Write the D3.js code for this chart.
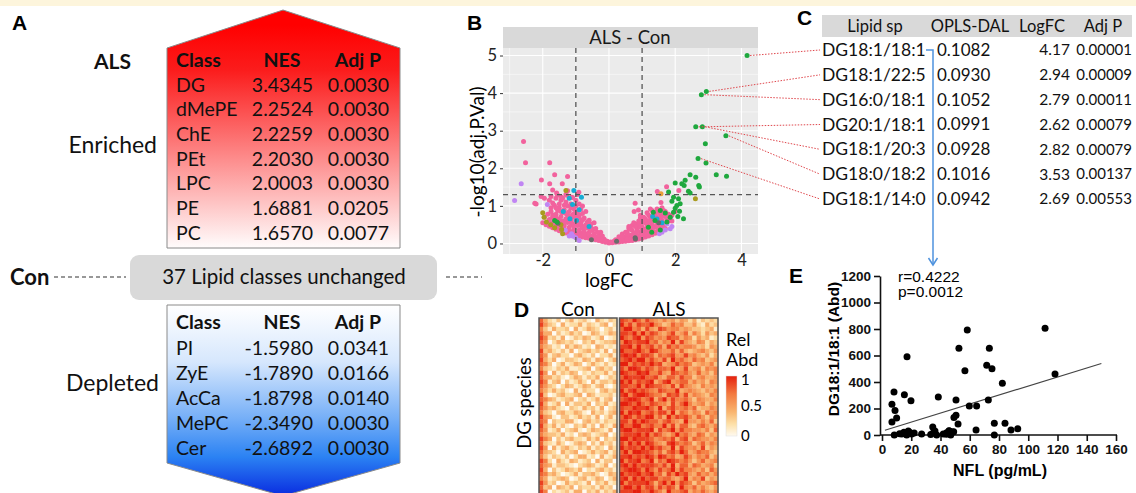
<!DOCTYPE html>
<html>
<head>
<meta charset="utf-8">
<script src="https://cdn.jsdelivr.net/npm/d3@7"></script>
<style>
  body { margin: 0; background: #fff; }
  svg { display: block; font-family: Lato, "Open Sans", sans-serif; }
</style>
</head>
<body>
<script>
// ---- Panel A: lipid class enrichment ----
var enrichedClass = ["DG", "dMePE", "ChE", "PEt", "LPC", "PE", "PC"];
var enrichedNES = ["3.4345", "2.2524", "2.2259", "2.2030", "2.0003", "1.6881", "1.6570"];
var enrichedP = ["0.0030", "0.0030", "0.0030", "0.0030", "0.0030", "0.0205", "0.0077"];
var depletedClass = ["PI", "ZyE", "AcCa", "MePC", "Cer"];
var depletedNES = ["-1.5980", "-1.7890", "-1.8798", "-2.3490", "-2.6892"];
var depletedP = ["0.0341", "0.0166", "0.0140", "0.0030", "0.0030"];
var unchangedCount = 37;

// ---- Panel C: top DG species ----
var lipidSp = ["DG18:1/18:1", "DG18:1/22:5", "DG16:0/18:1", "DG20:1/18:1", "DG18:1/20:3", "DG18:0/18:2", "DG18:1/14:0"];
var oplsDal = ["0.1082", "0.0930", "0.1052", "0.0991", "0.0928", "0.1016", "0.0942"];
var lipidLogFC = [4.17, 2.94, 2.79, 2.62, 2.82, 3.53, 2.69];
var lipidAdjP = [0.00001, 0.00009, 0.00011, 0.00079, 0.00079, 0.00137, 0.00553];
var lipidAdjPText = ["0.00001", "0.00009", "0.00011", "0.00079", "0.00079", "0.00137", "0.00553"];

// ---- Panel B: volcano points [logFC, -log10(adj.P)] per lipid group ----
var pinkPts = [
  [0,0.01],[-0.1,0.03],[-0.2,0.05],[-0.3,0.08],[-0.4,0.1],[-0.5,0.12],[-0.6,0.14],[-0.7,0.15],[-0.8,0.17],[-0.9,0.19],[-1.0,0.2],
  [-1.1,0.22],[-1.2,0.25],[-1.3,0.28],[-1.4,0.31],[-1.5,0.34],[-1.6,0.38],[-1.7,0.42],[-1.8,0.46],[-1.9,0.5],[-2.0,0.55],
  [-0.15,0.12],[-0.3,0.2],[-0.45,0.25],[-0.6,0.3],[-0.75,0.33],[-0.9,0.36],[-1.05,0.4],[-1.2,0.43],[-1.35,0.47],[-1.5,0.52],
  [-1.65,0.58],[-1.8,0.64],[-1.95,0.7],
  [-0.25,0.3],[-0.4,0.4],[-0.55,0.45],[-0.7,0.5],[-0.85,0.55],[-1.0,0.6],[-1.15,0.62],[-1.3,0.66],[-1.45,0.72],[-1.6,0.78],[-1.75,0.85],
  [-0.45,0.55],[-0.6,0.62],[-0.75,0.68],[-0.9,0.75],[-1.05,0.8],[-1.2,0.85],[-1.35,0.9],[-1.5,0.95],[-1.65,1.02],
  [-0.7,0.85],[-0.85,0.92],[-1.0,1.0],[-1.15,1.05],[-1.3,1.1],[-1.45,1.15],[-1.6,1.2],[-1.8,1.15],[-1.95,1.2],
  [-1.1,1.22],[-1.3,1.3],[-1.55,1.28],[-1.75,1.25],[-2.05,1.25],[-2.2,1.05],[-1.25,1.4],[-0.95,1.3],[-1.7,1.42],[-1.0,1.15],
  [-1.58,1.34],[-1.43,1.23],[-1.28,1.28],[-1.13,1.23],[-0.91,1.36],
  [-2.58,2.71],[-2.52,2.15],[-1.79,2.15],[-1.64,1.83],[-2.04,1.69],[-1.79,1.59],[-1.25,1.78],[-1.41,1.59],[-2.24,1.07],
  [-0.2,0.2],[-0.35,0.18],[-0.5,0.35],[-0.65,0.22],[-0.8,0.42],[-0.95,0.48],[-1.1,0.5],[-1.25,0.56],[-1.4,0.6],[-1.55,0.65],
  [-1.7,0.7],[-0.85,0.28],[-1.15,0.32],[-1.45,0.42],[-1.75,0.55],[-1.05,0.7],[-1.25,0.75],[-1.4,0.82],[-0.95,0.65],
  [-0.05,0.06],[-0.12,0.08],[-0.25,0.12],[-0.35,0.1],[-0.45,0.16],[-0.55,0.2],[-0.65,0.25],[-0.75,0.24],[-0.85,0.22],[-0.95,0.26],
  [-1.05,0.3],[-1.15,0.28],[-1.25,0.35],[-1.35,0.38],[-1.45,0.34],[-1.55,0.44],[-1.65,0.48],[-1.85,0.56],
  [-0.35,0.3],[-0.45,0.38],[-0.55,0.35],[-0.65,0.42],[-0.75,0.45],[-0.85,0.48],[-0.95,0.55],[-1.05,0.52],[-1.15,0.55],[-1.2,0.6],
  [-1.35,0.58],[-1.5,0.62],[-1.6,0.68],[-1.7,0.76],[-1.85,0.78],
  [-0.55,0.52],[-0.65,0.58],[-0.8,0.62],[-0.9,0.68],[-1.0,0.72],[-1.1,0.76],[-1.2,0.72],[-1.3,0.8],[-1.45,0.85],[-1.55,0.88],
  [-1.6,0.95],[-1.75,0.95],[-0.8,0.8],[-0.95,0.85],[-1.05,0.92],[-1.15,0.95],[-1.25,1.0],[-1.35,1.02],[-1.5,1.05],[-1.7,1.08],
  [-1.4,1.2],[-0.9,1.05],[-0.8,1.0],
  [0.1,0.02],[0.2,0.03],[0.3,0.04],[0.4,0.05],[0.5,0.06],[0.6,0.07],[0.7,0.08],[0.8,0.1],[0.9,0.12],[1.0,0.14],[1.1,0.17],
  [1.2,0.2],[1.3,0.23],[1.4,0.27],[1.5,0.3],[1.6,0.35],
  [0.2,0.1],[0.35,0.14],[0.5,0.18],[0.65,0.22],[0.8,0.26],[0.95,0.3],[1.1,0.34],[1.25,0.38],[1.4,0.43],[1.55,0.48],[1.7,0.52],
  [0.4,0.25],[0.55,0.3],[0.7,0.35],[0.85,0.4],[1.0,0.44],[1.15,0.48],[1.3,0.52],[1.45,0.57],[1.6,0.62],[1.75,0.66],
  [0.7,0.48],[0.85,0.52],[1.0,0.56],[1.15,0.6],[1.3,0.66],[1.45,0.7],[1.6,0.74],[1.8,0.78],
  [1.05,0.7],[1.2,0.75],[1.35,0.8],[1.5,0.85],[1.65,0.88],
  [0.79,1.07],[1.57,1.09],[1.46,1.38],[1.74,1.51],[2.11,1.41],[0.76,0.85],[0.89,0.89],[1.25,0.92],[0.95,0.68],[1.9,0.6],[2.0,0.85],[0.6,0.4],
  [0.3,0.12],[0.45,0.1],[0.6,0.15],[0.75,0.17],[0.9,0.2],[1.05,0.24],[1.2,0.28],[1.35,0.32],[1.5,0.38],[0.75,0.28],[1.05,0.38],
  [1.35,0.45],[1.65,0.44],[0.9,0.5],[1.2,0.52],[1.5,0.64],
  [0.05,0.04],[0.15,0.06],[0.25,0.07],[0.35,0.08],[0.45,0.12],[0.55,0.12],[0.65,0.14],[0.85,0.15],[0.95,0.18],[1.15,0.22],
  [1.25,0.25],[1.45,0.3],[1.55,0.33],[1.7,0.4],
  [0.3,0.18],[0.4,0.18],[0.55,0.24],[0.7,0.22],[0.85,0.32],[1.0,0.35],[1.15,0.4],[1.3,0.42],[1.45,0.5],[1.6,0.55],[1.8,0.6],
  [0.5,0.3],[0.65,0.38],[0.8,0.45],[0.95,0.44],[1.1,0.55],[1.25,0.6],[1.4,0.62],[1.55,0.7],[1.7,0.72],[1.9,0.75],
  [0.6,0.45],[0.75,0.55],[0.9,0.6],[1.1,0.65],[1.25,0.7],[1.4,0.78],[1.55,0.8],[1.7,0.85],[0.95,0.75],[1.15,0.82],
  [1.3,0.88],[1.45,0.92],[1.6,0.95],[1.05,0.62]
];
var greenPts = [
  [2.91,2.65],[2.93,2.14],[3.24,1.83],[3.55,1.79],[2.45,1.83],[2.62,1.76],[2.30,1.68],[2.0,1.61],[2.2,1.59],[2.71,1.54],
  [2.73,1.5],[2.27,1.54],[1.8,1.37],[2.4,1.39],[2.45,1.34],[1.95,1.23],[2.1,1.19],[1.9,1.12],[2.05,1.01],[2.0,0.94],
  [2.15,1.06],[2.13,0.86],[1.95,0.83],[2.25,0.66],[1.34,0.83],[1.55,0.88],[1.7,0.81],[1.39,0.61],[1.75,0.57],[1.19,0.43],
  [1.55,0.36],[1.29,0.3],[-1.57,0.57],[-1.64,0.61],[2.08,0.72],[1.85,0.7]
];
var olivePts = [[-1.96,0.70],[-1.89,0.57],[-1.76,0.5],[-1.64,0.42],[-1.45,0.5],[-1.43,0.37],[-1.30,1.41],[-1.4,0.26],[2.61,1.19],[-2.0,0.82]];
var cyanPts = [[-1.06,1.41],[-0.83,1.23],[-1.1,1.04],[-1.38,0.85],[-1.18,0.66],[-0.98,0.61],[-1.2,1.2],[-0.9,0.9],[1.32,0.72],[1.45,0.65],[1.6,0.55],[-0.6,0.45]];
var purplePts = [[-2.65,1.59],[-2.85,1.14],[-1.86,1.04],[-1.13,0.26],[-1.08,0.19],[-1.0,0.15],[-1.32,0.35],[1.75,0.52],[1.85,0.39],
  [1.7,0.36],[1.52,0.26],[1.6,0.3],[-1.2,0.2],[-0.9,0.08],[1.9,0.45]];
var orangePts = [[1.57,1.32]];
var grayPts = [[-0.53,0.1],[0.23,0.06],[0.79,0.15],[-1.54,0.54],[0.8,0.12],[1.5,0.55]];
var volcanoXTicks = [-2, 0, 2, 4];
var volcanoYTicks = [0, 1, 2, 3, 4, 5];

// ---- Panel D: relative abundance, one digit per cell (0 = 0, 9 = 1) ----
var conRows = [
  "742130241231042132","853204122413213402","631422304124320231","744031242301431243","862314013243124012",
  "750243231032412334","643120424312043121","834213140234231403","751342203421302241","842401332143143024",
  "763024124302421312","632132411234034230","850413243021322413","744231024313240132","861340312420413324",
  "753202431243134102","642423104132203423","830134223404312231","764312340231241340","841240413324032412",
  "753421032142314023","632034224310423134","854103312423140241","760322441034231322","842413103241304214",
  "751240234102432140","643324120343123402","864031342214240323","732142013430314231","850413421324132042",
  "743204234012423413","631321302441204124","862042143123041330","754133210234312402","840312432402134231",
  "763420124133420143","641234301341243024","852301423214032412","734043240322314230","860212314403241324"
];
var alsRows = [
  "87697586546453542413232","96858779653475633521423","79967485487566454332341","88796968754684573642534","97689587565877465253412",
  "69878896746594854365243","88969678574867566534254","97789769865574743456435","89896887476785585643524","78979968658496754756345",
  "99687879784568676345463","86998687577694584563656","98779896685487675474536","79888977854775866356445","97968789468956774645365",
  "88779698776584865436454","96897876587669456543546","89689987664878584654365","78998679479586675365446","99879768766485796456354",
  "87798897594786675734465","96989678688594764653756","79868799574968786475365","88697987757865495546473","97799678669584774367546",
  "89978889486795866554637","78889796875469675476354","99798887567684784765546","86979698654897676357465","97887979786594865648354",
  "79699887574786974576643","88978798698674586465735","96889679476987675357456","89797888768594774764563","78998697586795866546375",
  "97889789674869785475646","89697978867754694658354","96888897479695876364567","79979688586874965746435","88899779764966784657546"
];
var legendTicks = [0, 0.5, 1];

// ---- Panel E: NFL vs DG18:1/18:1 ----
var nfl = [6.8, 8.2, 8.9, 10.0, 6.8, 8.4, 17.1, 15.3, 19.8, 13.5, 15.0, 16.9, 18.7, 20.3, 27.1, 33.3, 34.7, 36.2, 37.4, 38.5,
  41.9, 44.2, 45.8, 47.0, 48.3, 49.2, 50.6, 50.6, 52.0, 52.6, 56.7, 58.3, 59.7, 64.7, 64.3, 71.6, 73.4, 75.2, 72.7, 76.8,
  76.8, 82.3, 84.1, 88.2, 92.8, 111.5, 118.3, 12, 22, 35, 44, 46, 49, 18];
var dgAbd = [232, 325, 184, 128, 98, 0, 591, 304, 259, 8, 20, 0, 20, 8, 8, 3, 60, 30, 0, 287,
  8, 17, 32, 0, 23, 133, 149, 264, 83, 654, 485, 792, 219, 219, 38, 526, 654, 500, 264, 88,
  0, 390, 88, 38, 48, 805, 460, 10, 15, 15, 5, 30, 25, 30];
var fitX = [2, 150];
var fitY = [36, 540];
var nflTicks = [0, 20, 40, 60, 80, 100, 120, 140, 160];
var abdTicks = [0, 200, 400, 600, 800, 1000, 1200];

var W = 1136, H = 493;
var svg = d3.select("body").append("svg").attr("width", W).attr("height", H);
var defs = svg.append("defs");

svg.append("rect").attr("width", W).attr("height", 6).attr("fill", "#fdf5dc");

function panelLabel(s, x, y) {
  svg.append("text").attr("x", x).attr("y", y).text(s)
    .style("font-family", "'Liberation Sans', Arial, sans-serif")
    .style("font-weight", "bold").style("font-size", "21px");
}
panelLabel("A", 12, 30);
panelLabel("B", 467, 30);
panelLabel("C", 797, 25);
panelLabel("D", 514, 317);
panelLabel("E", 789, 283);

// ================= Panel A =================
var redGrad = defs.append("linearGradient").attr("id", "redGrad")
  .attr("gradientUnits", "userSpaceOnUse").attr("x1", 0).attr("x2", 0).attr("y1", 25).attr("y2", 250);
redGrad.append("stop").attr("offset", 0).attr("stop-color", "#ff0000");
redGrad.append("stop").attr("offset", 0.2).attr("stop-color", "#fb1c1c");
redGrad.append("stop").attr("offset", 1).attr("stop-color", "#ffffff");

var blueGrad = defs.append("linearGradient").attr("id", "blueGrad")
  .attr("gradientUnits", "userSpaceOnUse").attr("x1", 0).attr("x2", 0).attr("y1", 305).attr("y2", 495);
blueGrad.append("stop").attr("offset", 0).attr("stop-color", "#ffffff");
blueGrad.append("stop").attr("offset", 0.3).attr("stop-color", "#d6e7fd");
blueGrad.append("stop").attr("offset", 0.6).attr("stop-color", "#74aef7");
blueGrad.append("stop").attr("offset", 0.8).attr("stop-color", "#2b82f3");
blueGrad.append("stop").attr("offset", 1).attr("stop-color", "#0a2ee0");

svg.append("path")
  .attr("d", "M167,48 L283,10 L400,48 L400,248 L167,248 Z")
  .attr("fill", "url(#redGrad)").attr("stroke", "#8a8a8a").attr("stroke-width", 1);
svg.append("path")
  .attr("d", "M167,305 L400,305 L400,463 L283,496 L167,463 Z")
  .attr("fill", "url(#blueGrad)").attr("stroke", "#8a8a8a").attr("stroke-width", 1);
svg.append("rect").attr("x", 130).attr("y", 255).attr("width", 307).attr("height", 45).attr("rx", 9)
  .attr("fill", "#d9d9d9");

var gA = svg.append("g").style("font-size", "19.5px").attr("fill", "#111");

function classTable(g, headY, yScale, cls, nes, p) {
  g.append("text").attr("x", 176).attr("y", headY).attr("dy", "0.35em").style("font-weight", "bold").text("Class");
  g.append("text").attr("x", 282).attr("y", headY).attr("dy", "0.35em").attr("text-anchor", "middle").style("font-weight", "bold").text("NES");
  g.append("text").attr("x", 381).attr("y", headY).attr("dy", "0.35em").attr("text-anchor", "end").style("font-weight", "bold").text("Adj P");
  var rows = g.selectAll(null).data(cls).enter().append("g")
    .attr("transform", function(d, i) { return "translate(0," + yScale(i) + ")"; });
  rows.append("text").attr("x", 176).attr("dy", "0.35em").text(function(d) { return d; });
  rows.append("text").attr("x", 313).attr("dy", "0.35em").attr("text-anchor", "end").text(function(d, i) { return nes[i]; });
  rows.append("text").attr("x", 389).attr("dy", "0.35em").attr("text-anchor", "end").text(function(d, i) { return p[i]; });
}
var enrY = d3.scaleLinear().domain([0, enrichedClass.length - 1]).range([85, 233]);
var depY = d3.scaleLinear().domain([0, depletedClass.length - 1]).range([348, 448]);
classTable(gA, 60, enrY, enrichedClass, enrichedNES, enrichedP);
classTable(gA, 322, depY, depletedClass, depletedNES, depletedP);

gA.append("text").attr("x", 131).attr("y", 62).attr("dy", "0.35em").attr("text-anchor", "end")
  .style("font-weight", "bold").style("font-size", "21px").text("ALS");
gA.append("text").attr("x", 157).attr("y", 145).attr("dy", "0.35em").attr("text-anchor", "end")
  .style("font-size", "23px").text("Enriched");
gA.append("text").attr("x", 159).attr("y", 383).attr("dy", "0.35em").attr("text-anchor", "end")
  .style("font-size", "23px").text("Depleted");
gA.append("text").attr("x", 284).attr("y", 277).attr("dy", "0.35em").attr("text-anchor", "middle")
  .style("font-size", "20.5px").text(unchangedCount + " Lipid classes unchanged");
gA.append("text").attr("x", 10).attr("y", 277).attr("dy", "0.35em")
  .style("font-weight", "bold").style("font-size", "22px").text("Con");
svg.append("line").attr("x1", 54).attr("x2", 126).attr("y1", 277).attr("y2", 277)
  .attr("stroke", "#333").attr("stroke-width", 1.2).attr("stroke-dasharray", "4,3");
svg.append("line").attr("x1", 446).attr("x2", 482).attr("y1", 277).attr("y2", 277)
  .attr("stroke", "#333").attr("stroke-width", 1.2).attr("stroke-dasharray", "4,3");

// ================= Panel B =================
var x = d3.scaleLinear().domain([-3.2, 4.5]).range([503, 758]);
var y = d3.scaleLinear().domain([-0.28, 5.2]).range([254, 48]);
var gB = svg.append("g");
gB.append("rect").attr("x", 503).attr("y", 27).attr("width", 255).attr("height", 21).attr("fill", "#d9d9d9");
gB.append("text").attr("x", 630).attr("y", 38).attr("dy", "0.35em").attr("text-anchor", "middle")
  .style("font-size", "18.5px").attr("fill", "#1a1a1a").text("ALS - Con");
gB.append("rect").attr("x", 503).attr("y", 48).attr("width", 255).attr("height", 206).attr("fill", "#ebebeb");

var minorX = [-3, -1, 1, 3], minorY = [0.5, 1.5, 2.5, 3.5, 4.5];
gB.selectAll(null).data(minorX).enter().append("line")
  .attr("x1", x).attr("x2", x).attr("y1", 48).attr("y2", 254).attr("stroke", "#fff").attr("stroke-width", 0.5);
gB.selectAll(null).data(minorY).enter().append("line")
  .attr("y1", y).attr("y2", y).attr("x1", 503).attr("x2", 758).attr("stroke", "#fff").attr("stroke-width", 0.5);
gB.selectAll(null).data(volcanoXTicks).enter().append("line")
  .attr("x1", x).attr("x2", x).attr("y1", 48).attr("y2", 254).attr("stroke", "#fff").attr("stroke-width", 1.1);
gB.selectAll(null).data(volcanoYTicks).enter().append("line")
  .attr("y1", y).attr("y2", y).attr("x1", 503).attr("x2", 758).attr("stroke", "#fff").attr("stroke-width", 1.1);

function dots(pts, color) {
  gB.selectAll(null).data(pts).enter().append("circle")
    .attr("cx", function(d) { return x(d[0]); })
    .attr("cy", function(d) { return y(d[1]); })
    .attr("r", 2.5).attr("fill", color);
}
dots(pinkPts, "#f2629d");
dots(purplePts, "#c085f3");
dots(olivePts, "#a99b1f");
dots(cyanPts, "#17acd4");
dots(orangePts, "#e8a03a");
dots(grayPts, "#6b6b6b");
dots(greenPts, "#1fa83e");
var tablePts = lipidLogFC.map(function(d, i) { return [d, -Math.log10(lipidAdjP[i])]; });
dots(tablePts, "#1fa83e");

[-1, 1].forEach(function(v) {
  gB.append("line").attr("x1", x(v)).attr("x2", x(v)).attr("y1", 48).attr("y2", 254)
    .attr("stroke", "#555").attr("stroke-width", 1.3).attr("stroke-dasharray", "5,4");
});
gB.append("line").attr("x1", 503).attr("x2", 758).attr("y1", y(-Math.log10(0.05))).attr("y2", y(-Math.log10(0.05)))
  .attr("stroke", "#555").attr("stroke-width", 1.3).attr("stroke-dasharray", "5,4");

var axL = gB.append("g").attr("transform", "translate(503,0)")
  .call(d3.axisLeft(y).tickValues(volcanoYTicks).tickSize(3).tickFormat(d3.format("d")));
var axB = gB.append("g").attr("transform", "translate(0,254)")
  .call(d3.axisBottom(x).tickValues(volcanoXTicks).tickSize(3).tickFormat(d3.format("d")));
[axL, axB].forEach(function(a) {
  a.select(".domain").remove();
  a.selectAll("line").attr("stroke", "#333");
  a.selectAll("text").style("font-family", "Lato, sans-serif").style("font-size", "16.5px").attr("fill", "#222");
});
axB.selectAll("text").attr("y", 0).text(function(d) { return d < 0 ? "-" + Math.abs(d) : d; });
axL.selectAll("text").attr("x", -6);
gB.append("text").attr("transform", "translate(484,152) rotate(-90)").attr("text-anchor", "middle")
  .style("font-size", "19px").text("-log10(adj.P.Val)");
gB.append("text").attr("x", 609).attr("y", 287).attr("text-anchor", "middle")
  .style("font-size", "19px").text("logFC");

// ================= Panel C =================
var gC = svg.append("g").style("font-size", "17px").attr("fill", "#111");
var rowC = d3.scaleLinear().domain([0, lipidSp.length - 1]).range([50, 199]);
gC.append("rect").attr("x", 822).attr("y", 15).attr("width", 310).attr("height", 22).attr("fill", "#d9d9d9");
var headC = [["Lipid sp", 875], ["OPLS-DAL", 970], ["LogFC", 1042], ["Adj P", 1103]];
gC.selectAll(null).data(headC).enter().append("text")
  .attr("x", function(d) { return d[1]; }).attr("y", 26).attr("dy", "0.35em")
  .attr("text-anchor", "middle").style("font-size", "16.5px").text(function(d) { return d[0]; });

// connector lines from volcano points to table rows
gC.selectAll(null).data(tablePts).enter().append("line")
  .attr("x1", function(d) { return x(d[0]) + 3; }).attr("y1", function(d) { return y(d[1]); })
  .attr("x2", 820).attr("y2", function(d, i) { return rowC(i); })
  .attr("stroke", "#e0484e").attr("stroke-width", 1).attr("stroke-dasharray", "1.5,1.5");

var rowsC = gC.selectAll(null).data(lipidSp).enter().append("g")
  .attr("transform", function(d, i) { return "translate(0," + rowC(i) + ")"; });
rowsC.append("text").attr("x", 822).attr("dy", "0.35em").style("font-size", "17.5px").text(function(d) { return d; });
rowsC.append("text").attr("x", 937).attr("dy", "0.35em").text(function(d, i) { return oplsDal[i]; });
rowsC.append("text").attr("x", 1070).attr("dy", "0.35em").attr("text-anchor", "end").style("font-size", "15.5px")
  .text(function(d, i) { return lipidLogFC[i].toFixed(2); });
rowsC.append("text").attr("x", 1132).attr("dy", "0.35em").attr("text-anchor", "end").style("font-size", "15px")
  .text(function(d, i) { return lipidAdjPText[i]; });

// blue arrow from DG18:1/18:1 down to panel E
svg.append("path").attr("d", "M926," + rowC(0) + " H933 V264")
  .attr("fill", "none").attr("stroke", "#4f93de").attr("stroke-width", 1.5);
svg.append("path").attr("d", "M928.5,258 L933,265 L937.5,258")
  .attr("fill", "none").attr("stroke", "#4f93de").attr("stroke-width", 1.5);

// ================= Panel D =================
var gD = svg.append("g");
var heat = d3.scaleLinear().domain([0, 0.2, 0.4, 0.7, 1])
  .range(["#fffaf0", "#fde0a8", "#f9b570", "#f37a40", "#e5200e"]);
var nRow = conRows.length;
var rowBand = d3.scaleBand().domain(d3.range(nRow)).range([318, 318 + nRow * 4.4]);
var conX = d3.scaleBand().domain(d3.range(18)).range([539, 617]);
var alsX = d3.scaleBand().domain(d3.range(23)).range([619.5, 718]);

function heatBlock(rows, xs) {
  rows.forEach(function(r, i) {
    var cells = r.split("").slice(0, xs.domain().length).map(Number);
    gD.selectAll(null).data(cells).enter().append("rect")
      .attr("x", function(d, j) { return xs(j); })
      .attr("y", rowBand(i))
      .attr("width", xs.bandwidth() + 0.3).attr("height", rowBand.bandwidth() + 0.3)
      .attr("fill", function(d) { return heat(d / 9); });
  });
  gD.append("rect").attr("x", xs.range()[0]).attr("y", 318)
    .attr("width", xs.range()[1] - xs.range()[0]).attr("height", nRow * 4.4)
    .attr("fill", "none").attr("stroke", "#555").attr("stroke-width", 1.5);
}
heatBlock(conRows, conX);
heatBlock(alsRows, alsX);

gD.append("text").attr("x", 578).attr("y", 309).attr("dy", "0.35em").attr("text-anchor", "middle")
  .style("font-size", "19px").text("Con");
gD.append("text").attr("x", 669).attr("y", 309).attr("dy", "0.35em").attr("text-anchor", "middle")
  .style("font-size", "19px").text("ALS");
gD.append("text").attr("transform", "translate(531,403) rotate(-90)").attr("text-anchor", "middle")
  .style("font-size", "18.5px").text("DG species");

var legY = d3.scaleLinear().domain([0, 1]).range([436, 376]);
var legGrad = defs.append("linearGradient").attr("id", "legGrad")
  .attr("x1", 0).attr("x2", 0).attr("y1", 1).attr("y2", 0);
heat.domain().forEach(function(v) {
  legGrad.append("stop").attr("offset", v).attr("stop-color", heat(v));
});
gD.append("rect").attr("x", 726).attr("y", legY(1)).attr("width", 11).attr("height", legY(0) - legY(1))
  .attr("fill", "url(#legGrad)").attr("stroke", "#ddd").attr("stroke-width", 0.5);
gD.selectAll(null).data(legendTicks).enter().append("text")
  .attr("x", 741).attr("y", function(d) { return legY(d) + (d === 1 ? 4 : 0); }).attr("dy", "0.35em")
  .style("font-size", "15px").text(function(d) { return d; });
gD.append("text").attr("x", 726).attr("y", 340).attr("dy", "0.35em").style("font-size", "18px").text("Rel");
gD.append("text").attr("x", 726).attr("y", 360).attr("dy", "0.35em").style("font-size", "18px").text("Abd");

// ================= Panel E =================
var gE = svg.append("g").style("font-family", "'Liberation Sans', Arial, sans-serif");
var xE = d3.scaleLinear().domain([0, 160]).range([882, 1116]);
var yE = d3.scaleLinear().domain([0, 1200]).range([435, 276]);
var axEx = gE.append("g").attr("transform", "translate(0,435)")
  .call(d3.axisBottom(xE).tickValues(nflTicks).tickSize(6).tickSizeOuter(0).tickFormat(d3.format("d")));
var axEy = gE.append("g").attr("transform", "translate(880,0)")
  .call(d3.axisLeft(yE).tickValues(abdTicks).tickSize(6).tickSizeOuter(0).tickFormat(d3.format("d")));
axEx.select(".domain").attr("d", "M880,0H1117");
[axEx, axEy].forEach(function(a) {
  a.selectAll("path, line").attr("stroke", "#111").attr("stroke-width", 1.6);
  a.selectAll("text").style("font-family", "'Liberation Sans', Arial, sans-serif")
    .style("font-weight", "bold").style("font-size", "13.5px").attr("fill", "#111");
});
axEy.selectAll("text").attr("x", -9);

gE.append("line").attr("x1", xE(fitX[0])).attr("y1", yE(fitY[0])).attr("x2", xE(fitX[1])).attr("y2", yE(fitY[1]))
  .attr("stroke", "#444").attr("stroke-width", 1.2);
gE.selectAll(null).data(nfl).enter().append("circle")
  .attr("cx", function(d) { return xE(d); })
  .attr("cy", function(d, i) { return yE(dgAbd[i]); })
  .attr("r", 3.5).attr("fill", "#000");

gE.append("text").attr("x", 898).attr("y", 282).style("font-size", "15.5px").text("r=0.4222");
gE.append("text").attr("x", 898).attr("y", 297).style("font-size", "15.5px").text("p=0.0012");
gE.append("text").attr("x", 1000).attr("y", 476).attr("text-anchor", "middle")
  .style("font-weight", "bold").style("font-size", "16px").text("NFL (pg/mL)");
gE.append("text").attr("transform", "translate(839,349) rotate(-90)").attr("text-anchor", "middle")
  .style("font-weight", "bold").style("font-size", "15.5px").text("DG18:1/18:1 (Abd)");
</script>
</body>
</html>
